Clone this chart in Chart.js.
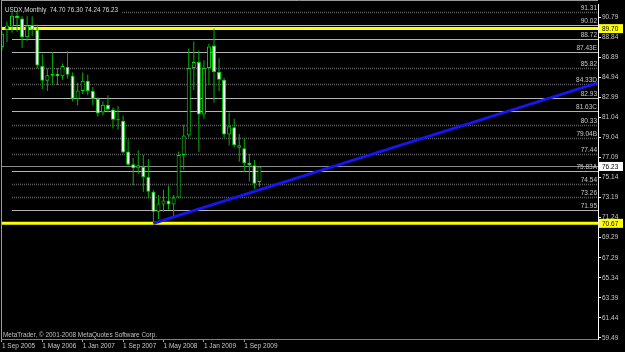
<!DOCTYPE html>
<html><head><meta charset="utf-8">
<script src="https://cdn.jsdelivr.net/npm/chart.js@4.4.1/dist/chart.umd.min.js"></script>
<style>html,body{margin:0;padding:0;background:#000;overflow:hidden}canvas{display:block}</style>
</head><body>
<canvas id="c" width="625" height="352"></canvas>
<script>
// ---------- DATA ----------
const months = ['Sep 2005','Oct 2005','Nov 2005','Dec 2005','Jan 2006','Feb 2006','Mar 2006','Apr 2006','May 2006','Jun 2006','Jul 2006','Aug 2006','Sep 2006','Oct 2006','Nov 2006','Dec 2006','Jan 2007','Feb 2007','Mar 2007','Apr 2007','May 2007','Jun 2007','Jul 2007','Aug 2007','Sep 2007','Oct 2007','Nov 2007','Dec 2007','Jan 2008','Feb 2008','Mar 2008','Apr 2008','May 2008','Jun 2008','Jul 2008','Aug 2008','Sep 2008','Oct 2008','Nov 2008','Dec 2008','Jan 2009','Feb 2009','Mar 2009','Apr 2009','May 2009','Jun 2009','Jul 2009','Aug 2009','Sep 2009','Oct 2009','Nov 2009','Dec 2009'];
const opens  = [87.9,89.6,89.9,90.95,90.7,88.85,90.05,89.6,86.05,84.6,85.3,85.3,85.05,85.95,85.1,82.85,83.6,84.6,83.6,82.85,81.5,82.25,81.8,80.8,80.7,77.7,76.45,76.05,76.2,75.2,73.75,71.8,72.5,72.9,72.5,73.2,77.35,79.25,85.85,86.45,81.3,85.85,88.05,85.45,84.7,79.35,80.05,78.05,78.0,76.6,76.35,74.70];
const highs  = [89.45,90.4,91.31,91.45,90.9,90.9,90.9,90.1,87.2,85.8,87.4,85.85,86.3,87.5,85.4,84.4,85.4,85.2,84.0,83.0,82.6,83.2,82.0,82.15,81.2,78.9,77.05,77.8,77.35,76.95,73.95,73.45,73.95,74.35,73.45,77.7,80.3,87.75,88.45,87.55,86.6,88.25,89.70,86.8,84.9,81.5,80.9,79.4,79.0,77.45,76.85,76.30];
const lows   = [87.55,88.4,89.3,89.4,87.8,88.5,89.0,85.8,83.8,83.6,84.2,84.2,84.7,84.8,82.6,82.2,83.3,83.2,82.2,81.1,81.2,81.5,79.95,79.85,77.5,76.3,74.4,75.5,73.75,73.1,70.67,71.1,71.8,72.0,71.35,73.1,75.9,79.05,83.7,77.65,80.9,84.2,82.45,83.6,79.05,78.3,78.1,76.7,75.7,74.75,74.05,74.24];
const closes = [89.2,90.0,90.95,90.75,88.85,90.0,89.6,86.1,84.6,85.15,85.1,85.05,86.05,85.2,82.85,83.65,84.6,83.6,82.85,81.4,82.25,81.8,80.8,80.75,77.6,76.4,76.05,76.35,75.2,73.75,71.8,72.6,72.9,72.5,73.2,77.35,79.25,85.85,86.45,81.3,85.85,87.95,85.45,84.7,79.35,80.15,78.3,78.3,76.55,76.35,74.55,76.23];

const xTickIndex  = [0,8,16,24,32,40,48];
const xTickLabels = ['1 Sep 2005','1 May 2006','1 Jan 2007','1 Sep 2007','1 May 2008','1 Jan 2009','1 Sep 2009'];
const yTickValues = [90.79,88.84,86.89,84.94,82.99,81.04,79.04,77.09,75.14,73.19,71.24,69.29,67.29,65.34,63.39,61.44,59.49];

const levelValues = [91.31,90.02,88.72,87.43,85.82,84.33,82.93,81.63,80.33,79.04,77.44,75.83,74.54,73.26,71.95];
const levelLabels = ['91.31','90.02','88.72','87.43E','85.82','84.33D','82.93','81.63C','80.33','79.04B','77.44','75.83A','74.54','73.26','71.95'];
const levelAnchorIndex = 2;
const resistance = 89.70;
const support = 70.67;
const trendStart = [30, 70.67];
const trendEnd   = [118, 84.40];
const symbolTitle = 'USDX,Monthly';
const copyright = 'MetaTrader, \u00A9 2001-2008 MetaQuotes Software Corp.';

// ---------- STYLE ----------
const FONT = 'Liberation Sans, Arial, sans-serif';
const darkLevelSet = new Set([91.31,85.82,84.33,80.33,79.04,77.44,74.54,73.26]);
const last = opens.length - 1;
const lastPrice = closes[last];

const bodies = opens.map((o,i)=>({x:i, y:[o, closes[i]]}));
const wicks  = lows.map((l,i)=>({x:i, y:[l, highs[i]]}));

const overlay = {
  id:'overlay',
  beforeDatasetsDraw(chart){
    const {ctx, chartArea:a, scales:{x,y}} = chart;
    ctx.save();
    ctx.beginPath(); ctx.rect(a.left, a.top, a.right-a.left, a.bottom-a.top); ctx.clip();
    const x0 = x.getPixelForValue(levelAnchorIndex);
    levelValues.forEach(v=>{
      const py = Math.round(y.getPixelForValue(v)) + 0.5;
      ctx.beginPath();
      if (darkLevelSet.has(v)) { ctx.strokeStyle='#5c5c5c'; ctx.lineWidth=1.6; ctx.setLineDash([1,1]); }
      else { ctx.strokeStyle='#b4b4b4'; ctx.lineWidth=1; ctx.setLineDash([]); }
      ctx.moveTo(x0, py); ctx.lineTo(a.right, py); ctx.stroke();
    });
    ctx.setLineDash([]);
    // bid line
    let py = Math.round(y.getPixelForValue(lastPrice)) + 0.5;
    ctx.strokeStyle='#8c8c8c'; ctx.lineWidth=1;
    ctx.beginPath(); ctx.moveTo(a.left, py); ctx.lineTo(a.right, py); ctx.stroke();
    // yellow lines
    ctx.strokeStyle='#ffff00'; ctx.lineWidth=3;
    [resistance, support].forEach(v=>{
      const yy = y.getPixelForValue(v);
      ctx.beginPath(); ctx.moveTo(a.left, yy); ctx.lineTo(a.right, yy); ctx.stroke();
    });
    // title backdrop
    ctx.font = '6.3px ' + FONT;
    const t = symbolTitle + '  ' + [opens[last],highs[last],lows[last],closes[last]].map(v=>v.toFixed(2)).join(' ');
    const w = ctx.measureText(t).width;
    ctx.fillStyle='#000'; ctx.fillRect(a.left+1, a.top, w+6, 9);
    ctx.restore();
  },
  afterDraw(chart){
    const {ctx, chartArea:a, scales:{x,y}} = chart;
    ctx.save();
    // borders
    ctx.strokeStyle='#9a9a9a'; ctx.lineWidth=1;
    ctx.beginPath(); ctx.moveTo(a.left+0.5, 0); ctx.lineTo(a.left+0.5, a.bottom); ctx.stroke();
    ctx.beginPath(); ctx.moveTo(a.left, 0.5); ctx.lineTo(a.right, 0.5); ctx.stroke();
    // level labels
    ctx.font = '6.5px ' + FONT;
    ctx.fillStyle = '#c8c8c8';
    ctx.textAlign='right'; ctx.textBaseline='bottom';
    levelValues.forEach((v,k)=>{
      const py = Math.round(y.getPixelForValue(v));
      ctx.fillText(levelLabels[k], a.right-1, py-0.5);
    });
    // axis boxes
    const box = (v, bg)=>{
      const py = y.getPixelForValue(v);
      ctx.fillStyle = bg; ctx.fillRect(a.right+1, py-4.5, 24, 9);
      ctx.fillStyle = '#000'; ctx.textAlign='left'; ctx.textBaseline='middle';
      ctx.font = '6.5px ' + FONT;
      ctx.fillText(v.toFixed(2), a.right+4, py+0.5);
    };
    box(resistance, '#ffff00');
    box(support, '#ffff00');
    box(lastPrice, '#ffffff');
    // title
    ctx.font = '6.3px ' + FONT;
    ctx.fillStyle='#dcdcdc'; ctx.textAlign='left'; ctx.textBaseline='middle';
    const t = symbolTitle + '  ' + [opens[last],highs[last],lows[last],closes[last]].map(v=>v.toFixed(2)).join(' ');
    ctx.fillText(t, a.left+4, a.top+5);
    // copyright
    ctx.font = '6.4px ' + FONT;
    ctx.fillStyle='#c0c0c0';
    ctx.fillText(copyright, a.left+2, a.bottom-4);
    ctx.restore();
  }
};

new Chart(document.getElementById('c'), {
  type:'bar',
  data:{ datasets:[
    { type:'line', data:[{x:trendStart[0], y:trendStart[1]},{x:trendEnd[0], y:trendEnd[1]}],
      borderColor:'#1616f0', borderWidth:3, pointRadius:0, order:0 },
    { label:'body', data:bodies, order:1, grouped:false,
      backgroundColor:(c)=> closes[c.dataIndex] < opens[c.dataIndex] ? '#ffffff' : '#000000',
      borderColor:'#00e000', borderWidth:1, borderSkipped:false, barThickness:4, minBarLength:1, inflateAmount:0 },
    { label:'wick', data:wicks, order:2, grouped:false,
      backgroundColor:'#00b400', borderWidth:0, barThickness:1, inflateAmount:0 }
  ]},
  options:{
    responsive:false, animation:false, devicePixelRatio:1,
    layout:{padding:{left:1, top:1, right:0, bottom:0}},
    plugins:{legend:{display:false}, tooltip:{enabled:false}},
    scales:{
      x:{ type:'linear', min:-0.178, max:118.04, offset:false,
          grid:{display:true, drawOnChartArea:false, drawTicks:true, tickLength:3, color:'#a0a0a0', offset:false},
          border:{display:true, color:'#808080', dash:[1,1]},
          ticks:{align:'start', color:'#c8c8c8', font:{family:FONT, size:6.5}, padding:0, maxRotation:0, autoSkip:false,
                 callback:(v)=>{ const k = xTickIndex.indexOf(v); return k>=0 ? xTickLabels[k] : ''; }},
          afterBuildTicks:(s)=>{ s.ticks = xTickIndex.map(v=>({value:v})); },
          afterFit:(s)=>{ s.height = 13; } },
      y:{ type:'linear', position:'right', min:59.368, max:92.018,
          grid:{drawOnChartArea:false, tickLength:3, color:'#ffffff'},
          border:{display:true, color:'#ffffff', width:1},
          ticks:{color:'#c8c8c8', font:{family:FONT, size:6.5}, padding:1, autoSkip:false,
                 callback:(v)=> Number(v).toFixed(2)},
          afterBuildTicks:(s)=>{ s.ticks = yTickValues.map(v=>({value:v})); },
          afterFit:(s)=>{ s.width = 27; } }
    }
  },
  plugins:[overlay]
});
</script>
</body></html>
